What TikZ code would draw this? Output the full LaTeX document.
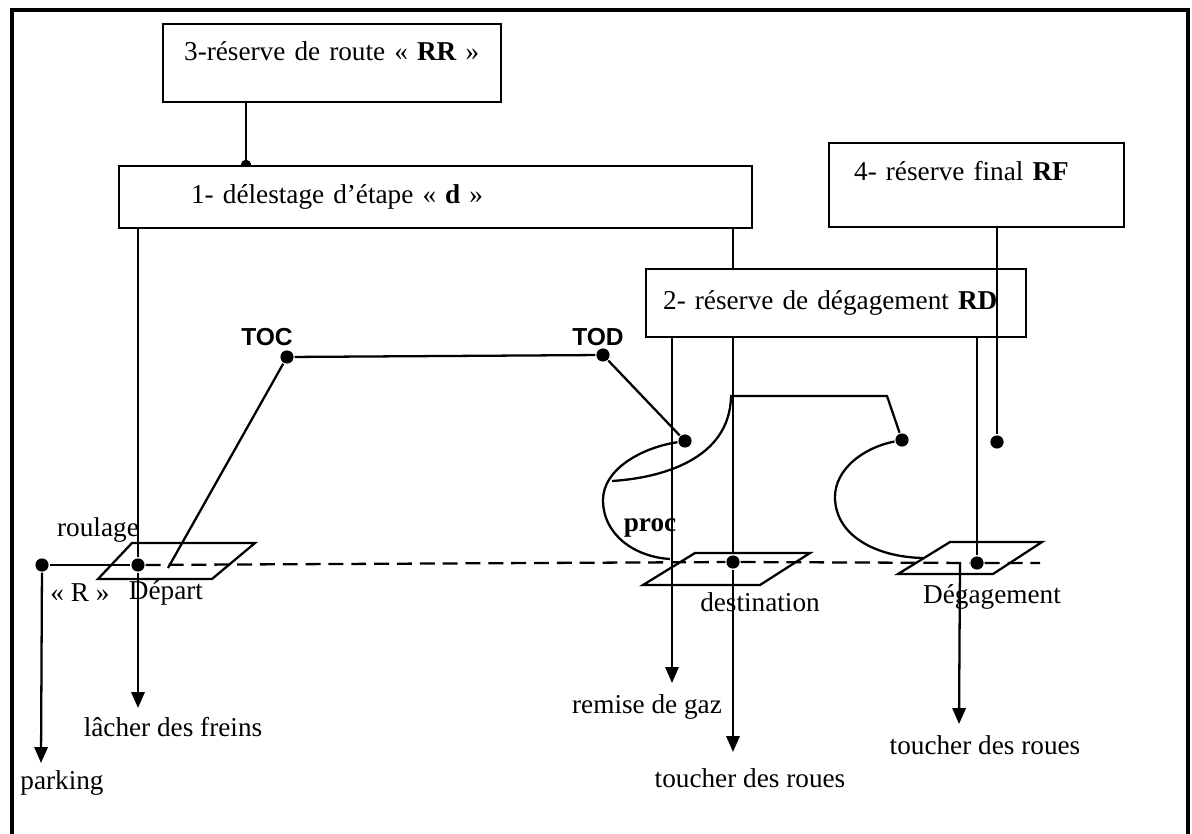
\documentclass[tikz,border=0pt]{standalone}
\usepackage{fontspec}
\setmainfont{Liberation Serif}
\newfontfamily\headfont{Liberation Sans}
\usetikzlibrary{arrows.meta, positioning}
\newcommand\dsize{\fontsize{15.5}{18}\selectfont}
\tikzset{
  every picture/.style={font=\dsize, line width=1.3pt},
  box/.style={draw, anchor=north west, align=left, inner ysep=0pt},
  arrow/.style={-{Triangle[width=7.5pt,length=9pt]}},
  dot/.style={circle, fill, inner sep=0pt, minimum size=7.5pt},
  track/.style={dash pattern=on 8.5pt off 4.5pt},
  tag/.style={font=\headfont\bfseries\fontsize{14}{16}\selectfont},
  strong/.style={font=\dsize\bfseries},
}

\begin{document}
\begin{tikzpicture}[x=0.02cm, y=-0.02cm]
  \useasboundingbox (0,0) rectangle (1192,834);
  \draw[line width=1.8pt] (12,834) -- (12,10) -- (1188,10) -- (1188,834);

  % the four reserves
  \node[box, inner xsep=0.42cm, text width=5.92cm, minimum height=1.56cm, text height=11pt, text depth=13.8pt] (rr) at (162,23) {3-réserve de route «~\textbf{RR}~»};
  \node[box, inner xsep=1.44cm, text width=9.78cm, minimum height=1.24cm] (dl) at (118,165) {1- délestage d’étape «~\textbf{d}~»};
  \node[box, inner xsep=0.5cm, text width=4.9cm, minimum height=1.68cm, text height=11pt, text depth=16pt] (rf) at (828,142) {4- réserve final \textbf{RF}};
  \node[box, inner xsep=0.34cm, text width=6.92cm, minimum height=1.36cm] (rd) at (645,268) {2- réserve de dégagement \textbf{RD}};

  % points of the flight
  \node[dot] (toc) at (287,357) {};
  \node[dot] (tod) at (603,355) {};
  \node[dot] (park) at (42,565) {};
  \node[dot] (depart) at (138,565) {};
  \node[dot] (dest) at (733,562) {};
  \node[dot] (degag) at (977,563) {};
  \node[dot] (app1) at (685,441) {};
  \node[dot] (app2) at (902,440) {};
  \node[dot] (final) at (997,442) {};

  \coordinate (link) at (246,165);
  \coordinate (freins) at (138,708);
  \coordinate (parking) at (41,763);
  \coordinate (gaz) at (672,683);
  \coordinate (roues) at (733,752);
  \coordinate (dg) at (960,563);
  \coordinate (roues2) at (959,724);
  \coordinate (climb) at (168,568);
  \coordinate (loop1) at (603,500);
  \coordinate (land1) at (670,559);
  \coordinate (go) at (612,481);
  \coordinate (corner) at (731,396);
  \coordinate (lvl) at (887,396);
  \coordinate (loop2) at (835,497);
  \coordinate (land2) at (923,558);
  \coordinate (trackend) at (1040,563);

  % runways
  \draw (98,579) -- (212,579) -- (255,543) -- (132,543) -- cycle;
  \draw (643,585) -- (760,585) -- (810,553) -- (695,553) -- cycle;
  \draw (898,574) -- (993,574) -- (1042,542) -- (950,542) -- cycle;

  % links between reserves and points
  \draw (rr.south -| link) -- (link);
  \fill (link) ++(-3pt,0) arc[start angle=180, end angle=0, radius=3pt] -- cycle;
  \draw (dl.south -| depart) -- (depart);
  \draw[arrow] (depart) -- (freins);
  \draw[arrow] (park) -- (parking);
  \draw (park) -- (depart);
  \draw[track] (depart) -- (dest) -- (degag) -- (trackend);
  \draw (dl.south -| dest) -- (rd.north -| dest);
  \draw (rd.south -| dest) -- (dest);
  \draw[arrow] (dest) -- (roues);
  \draw[arrow] (rd.south -| gaz) -- (gaz);
  \draw (rd.south -| degag) -- (degag);
  \draw (rf.south -| final) -- (final);
  \draw[arrow] (dg) -- (roues2);

  % flight path
  \draw (toc) -- (tod);
  \draw (toc) -- (climb);
  \draw (tod) -- (app1);
  \draw (app1) .. controls (640,448) and (603,470) .. (loop1) .. controls (603,535) and (635,557) .. (land1);
  \draw (go) .. controls (660,478) and (730,460) .. (corner) -- (lvl) -- (app2);
  \draw (app2) .. controls (862,448) and (835,470) .. (loop2) .. controls (835,535) and (875,557) .. (land2);

  % labels
  \node[tag] (toclbl) at (267,337) {TOC};
  \node[tag] (todlbl) at (598,337) {TOD};
  \node (roulage) at (98,530) {roulage};
  \node (rlbl) at (80,593) {«~R~»};
  \node (deplbl) at (166,593) {Départ};
  \node (freinslbl) at (173,727) {lâcher des freins};
  \node (parklbl) at (62,783) {parking};
  \node[strong] (proclbl) at (650,528) {proc};
  \node (destlbl) at (760,602) {destination};
  \node (gazlbl) at (647,707) {remise de gaz};
  \node (roueslbl) at (750,778) {toucher des roues};
  \node (dglbl) at (992,597) {Dégagement};
  \node (roues2lbl) at (985,745) {toucher des roues};
\end{tikzpicture}
\end{document}
